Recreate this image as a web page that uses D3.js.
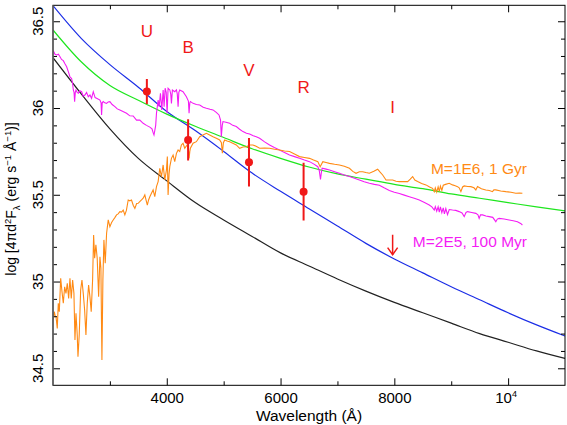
<!DOCTYPE html>
<html>
<head>
<meta charset="utf-8">
<script src="https://cdn.jsdelivr.net/npm/d3@7"></script>
<style>
  body { margin: 0; background: #fff; }
  text { font-family: "Liberation Sans", Arial, sans-serif; }
</style>
</head>
<body>
<div id="chart"></div>
<script>
// model spectra, [wavelength (A), log flux]
const spec1Gyr = [[2005,34.78],[2023,34.826],[2040,34.80],[2053,34.797],[2075,34.73],[2093,34.875],[2111,34.826],[2135,35.019],[2158,34.942],[2181,34.875],[2205,34.97],[2228,34.932],[2251,34.99],[2275,34.903],[2298,35.019],[2321,34.903],[2345,35.009],[2368,34.932],[2386,34.663],[2404,34.817],[2426,34.692],[2439,34.567],[2461,34.692],[2486,34.951],[2509,35.009],[2532,34.932],[2556,34.836],[2579,34.692],[2602,34.875],[2626,34.98],[2649,34.913],[2672,34.826],[2696,35.009],[2714,35.268],[2732,35.134],[2754,35.211],[2777,35.134],[2802,34.913],[2825,35.143],[2842,35.076],[2860,34.548],[2877,35.009],[2895,35.24],[2918,35.105],[2942,35.278],[2971,35.355],[3000,35.316],[3030,35.34],[3058,35.355],[3090,35.37],[3117,35.384],[3145,35.39],[3175,35.403],[3205,35.40],[3234,35.412],[3263,35.384],[3290,35.41],[3322,35.47],[3350,35.465],[3380,35.47],[3410,35.44],[3439,35.422],[3470,35.45],[3497,35.451],[3525,35.46],[3556,35.47],[3585,35.48],[3614,35.499],[3635,35.47],[3658,35.441],[3680,35.47],[3702,35.489],[3731,35.509],[3760,35.528],[3789,35.489],[3819,35.547],[3848,35.576],[3877,35.653],[3906,35.604],[3936,35.672],[3965,35.585],[3994,35.643],[4010,35.72],[4023,35.499],[4040,35.62],[4053,35.662],[4082,35.71],[4111,35.729],[4140,35.691],[4170,35.739],[4199,35.758],[4228,35.749],[4257,35.787],[4286,35.797],[4316,35.768],[4356,35.787],[4380,35.76],[4392,35.71],[4405,35.75],[4415,35.768],[4462,35.797],[4520,35.806],[4579,35.835],[4637,35.845],[4696,35.854],[4754,35.845],[4813,35.835],[4871,35.826],[4930,35.816],[4960,35.80],[4977,35.739],[4995,35.80],[5018,35.816],[5060,35.81],[5105,35.806],[5160,35.797],[5222,35.787],[5281,35.768],[5340,35.775],[5398,35.777],[5456,35.787],[5514,35.787],[5570,35.78],[5632,35.768],[5720,35.77],[5807,35.768],[5895,35.762],[5982,35.758],[6070,35.752],[6158,35.749],[6245,35.735],[6333,35.72],[6420,35.715],[6509,35.71],[6580,35.70],[6655,35.691],[6696,35.662],[6743,35.691],[6800,35.686],[6860,35.681],[6950,35.676],[7035,35.672],[7120,35.664],[7211,35.653],[7270,35.635],[7327,35.624],[7385,35.633],[7444,35.633],[7500,35.628],[7561,35.624],[7640,35.635],[7707,35.647],[7750,35.63],[7795,35.614],[7854,35.585],[7912,35.585],[7971,35.585],[8030,35.578],[8088,35.576],[8160,35.576],[8234,35.576],[8280,35.59],[8322,35.605],[8360,35.585],[8409,35.576],[8480,35.565],[8556,35.557],[8620,35.545],[8672,35.537],[8702,35.518],[8720,35.54],[8745,35.515],[8770,35.545],[8790,35.52],[8810,35.55],[8835,35.525],[8860,35.555],[8900,35.56],[8965,35.566],[9023,35.557],[9070,35.552],[9111,35.547],[9140,35.54],[9170,35.518],[9200,35.545],[9228,35.551],[9290,35.548],[9345,35.547],[9400,35.54],[9433,35.528],[9462,35.547],[9530,35.535],[9608,35.528],[9670,35.525],[9725,35.518],[9750,35.528],[9784,35.528],[9870,35.522],[9959,35.518],[10050,35.515],[10135,35.509],[10200,35.51],[10251,35.509]];

const spec100Myr = [[2005,36.33],[2035,36.31],[2065,36.306],[2095,36.31],[2123,36.296],[2150,36.28],[2181,36.273],[2210,36.255],[2240,36.238],[2269,36.21],[2298,36.18],[2327,36.17],[2345,36.14],[2357,36.104],[2370,36.09],[2380,36.037],[2392,36.09],[2404,36.104],[2425,36.09],[2445,36.085],[2470,36.10],[2503,36.094],[2530,36.07],[2561,36.075],[2590,36.09],[2620,36.065],[2650,36.075],[2678,36.056],[2708,36.094],[2740,36.06],[2766,36.056],[2800,36.05],[2825,36.046],[2845,36.03],[2854,35.96],[2865,36.03],[2883,36.037],[2910,36.03],[2942,36.027],[2970,36.035],[3000,36.037],[3040,36.02],[3088,36.008],[3130,35.995],[3175,35.989],[3230,35.98],[3293,35.97],[3351,35.955],[3409,35.954],[3468,35.93],[3526,35.93],[3585,35.912],[3643,35.90],[3702,35.89],[3740,35.88],[3760,35.858],[3775,35.845],[3789,35.87],[3805,35.90],[3819,35.97],[3848,36.046],[3866,36.008],[3889,36.085],[3912,35.989],[3936,36.104],[3953,36.008],[3971,36.114],[3990,36.09],[4006,35.97],[4023,36.114],[4053,36.104],[4070,36.08],[4082,36.027],[4099,36.104],[4140,36.094],[4170,36.104],[4185,36.08],[4199,36.008],[4212,36.09],[4228,36.104],[4286,36.094],[4345,36.065],[4380,36.04],[4392,35.97],[4405,36.03],[4415,36.037],[4462,36.027],[4520,36.02],[4579,36.017],[4640,36.005],[4696,35.999],[4760,35.993],[4813,35.989],[4870,35.975],[4918,35.96],[4945,35.93],[4959,35.835],[4975,35.90],[4988,35.922],[5040,35.918],[5105,35.912],[5160,35.90],[5222,35.893],[5280,35.878],[5339,35.864],[5400,35.855],[5456,35.85],[5520,35.84],[5573,35.835],[5632,35.826],[5720,35.805],[5807,35.787],[5890,35.772],[5982,35.758],[6070,35.743],[6158,35.729],[6245,35.72],[6333,35.71],[6420,35.70],[6509,35.691],[6580,35.678],[6655,35.662],[6680,35.64],[6702,35.589],[6718,35.63],[6731,35.653],[6800,35.648],[6860,35.643],[6950,35.633],[7035,35.624],[7120,35.614],[7211,35.605],[7300,35.595],[7386,35.585],[7470,35.575],[7561,35.566],[7650,35.56],[7737,35.555],[7820,35.54],[7912,35.525],[8000,35.515],[8088,35.507],[8175,35.498],[8263,35.489],[8350,35.48],[8439,35.47],[8530,35.455],[8614,35.441],[8660,35.43],[8702,35.412],[8720,35.432],[8745,35.405],[8770,35.43],[8790,35.40],[8810,35.43],[8835,35.397],[8860,35.425],[8880,35.39],[8905,35.42],[8935,35.385],[8965,35.415],[9023,35.412],[9080,35.41],[9140,35.403],[9190,35.395],[9228,35.374],[9260,35.398],[9287,35.403],[9360,35.398],[9433,35.393],[9470,35.385],[9491,35.364],[9515,35.385],[9550,35.384],[9610,35.378],[9667,35.374],[9730,35.37],[9784,35.345],[9810,35.36],[9842,35.364],[9930,35.36],[10018,35.355],[10090,35.35],[10164,35.345],[10220,35.335],[10251,35.326]];

// smooth comparison curves, sampled every 500 A
const curveWave  = [2000,2500,3000,3500,4000,4500,5000,5500,6000,6500,7000,7500,8000,8500,9000,9500,10000,10500,11000];
const blueCurve  = [36.59,36.40,36.25,36.12,35.98,35.87,35.75,35.625,35.52,35.42,35.32,35.22,35.13,35.05,34.97,34.895,34.82,34.75,34.686];
const greenCurve = [36.45,36.265,36.13,36.045,35.965,35.895,35.83,35.765,35.71,35.66,35.62,35.59,35.56,35.535,35.505,35.48,35.455,35.43,35.407];
const blackCurve = [36.29,36.08,35.88,35.71,35.58,35.455,35.355,35.26,35.165,35.09,35.015,34.945,34.88,34.82,34.76,34.70,34.65,34.60,34.557];

// photometry
const bands     = ["U", "B", "V", "R", "I"];
const bandWave  = [3650, 4375, 5445, 6405, 7970];
const bandFlux  = [36.095, 35.816, 35.687, 35.518, null];
const bandErr   = [0.072, 0.119, 0.14, 0.166, null];
const upperLim  = {band: "I", top: 35.27, tip: 35.155};

const xTicks = [4000, 6000, 8000, 10000];
const xMinor = [3000, 5000, 7000, 9000];
const yTicks = [34.5, 35, 35.5, 36, 36.5];

const width = 567, height = 425;
const margin = {top: 5.3, right: 2, bottom: 39.7, left: 53};
const red = "#f01818";

const svg = d3.select("#chart").append("svg")
    .attr("width", width)
    .attr("height", height);

const x = d3.scaleLinear().domain([2000, 11000]).range([margin.left, width - margin.right]);
const y = d3.scaleLinear().domain([34.402, 36.592]).range([height - margin.bottom, margin.top]);

svg.append("clipPath").attr("id", "plot")
  .append("rect")
    .attr("x", margin.left).attr("y", margin.top)
    .attr("width", width - margin.left - margin.right)
    .attr("height", height - margin.top - margin.bottom);

const plot = svg.append("g").attr("clip-path", "url(#plot)");

const line = d3.line().x(d => x(d[0])).y(d => y(d[1]));
const smooth = d3.line().x(d => x(d[0])).y(d => y(d[1])).curve(d3.curveMonotoneX);

// curves
[[blackCurve, "#222"], [blueCurve, "#1c2ee6"], [greenCurve, "#1ee61e"]].forEach(([vals, c]) => {
    plot.append("path")
        .datum(curveWave.map((w, i) => [w, vals[i]]))
        .attr("d", smooth)
        .attr("fill", "none")
        .attr("stroke", c)
        .attr("stroke-width", 1.2);
});

// spectra
plot.append("path").datum(spec100Myr).attr("d", line)
    .attr("fill", "none").attr("stroke", "#f41cf4").attr("stroke-width", 1.1);
plot.append("path").datum(spec1Gyr).attr("d", line)
    .attr("fill", "none").attr("stroke", "#ff8a14").attr("stroke-width", 1.1);

// error bars and points
bands.forEach((b, i) => {
    if (bandFlux[i] === null) return;
    plot.append("line")
        .attr("x1", x(bandWave[i])).attr("x2", x(bandWave[i]))
        .attr("y1", y(bandFlux[i] + bandErr[i])).attr("y2", y(bandFlux[i] - bandErr[i]))
        .attr("stroke", red).attr("stroke-width", 2);
    plot.append("circle")
        .attr("cx", x(bandWave[i])).attr("cy", y(bandFlux[i]))
        .attr("r", 4).attr("fill", red);
});

// upper limit arrow for I
const xi = x(bandWave[bands.indexOf(upperLim.band)]);
const ytip = y(upperLim.tip);
plot.append("line")
    .attr("x1", xi).attr("x2", xi)
    .attr("y1", y(upperLim.top)).attr("y2", ytip)
    .attr("stroke", red).attr("stroke-width", 1.5);
plot.append("path")
    .attr("d", `M${xi - 5},${ytip - 7}L${xi},${ytip}L${xi + 5},${ytip - 7}`)
    .attr("fill", "none").attr("stroke", red).attr("stroke-width", 1.5);

// band names
const labelY = [37.3, 53.3, 76, 93.3, 113.3];
svg.selectAll(".band").data(bands).join("text")
    .attr("x", (d, i) => x(bandWave[i]))
    .attr("y", (d, i) => labelY[i])
    .attr("text-anchor", "middle")
    .attr("fill", red)
    .style("font-size", "17px")
    .text(d => d);

// model labels
svg.append("text").attr("x", 527).attr("y", 174)
    .attr("text-anchor", "end").attr("fill", "#ff8a14")
    .style("font-size", "15.5px").text("M=1E6, 1 Gyr");
svg.append("text").attr("x", 527).attr("y", 247)
    .attr("text-anchor", "end").attr("fill", "#f41cf4")
    .style("font-size", "15.5px").text("M=2E5, 100 Myr");

// axes, all ticks pointing inward
const x0 = margin.left, x1 = width - margin.right;
const y0 = height - margin.bottom, y1 = margin.top;
const yMinor = d3.range(34.5, 36.55, 0.1).map(v => +v.toFixed(1)).filter(v => !yTicks.includes(v));

function styleAxis(g) {
    g.select(".domain").remove();
    g.selectAll("line").attr("stroke", "#000");
}

svg.append("g").attr("transform", `translate(0,${y0})`)
    .call(d3.axisBottom(x).tickValues(xMinor).tickSize(-4).tickFormat(""))
    .call(styleAxis);
const xb = svg.append("g").attr("transform", `translate(0,${y0})`)
    .call(d3.axisBottom(x).tickValues(xTicks).tickSize(-7).tickPadding(7)
        .tickFormat(d => d === 10000 ? "" : d))
    .call(styleAxis);
xb.selectAll("text").attr("fill", "#000").style("font-size", "15px")
    .style("font-family", "Liberation Sans, Arial, sans-serif");
// 10^4 label
const t4 = svg.append("text")
    .attr("x", x(10000) - 2).attr("y", y0 + 17.4)
    .attr("text-anchor", "middle")
    .style("font-size", "15px");
t4.append("tspan").text("10");
t4.append("tspan").attr("dy", -6).style("font-size", "9px").text("4");

svg.append("g").attr("transform", `translate(0,${y1})`)
    .call(d3.axisTop(x).tickValues(xMinor).tickSize(-4).tickFormat("")).call(styleAxis);
svg.append("g").attr("transform", `translate(0,${y1})`)
    .call(d3.axisTop(x).tickValues(xTicks).tickSize(-7).tickFormat("")).call(styleAxis);

svg.append("g").attr("transform", `translate(${x0},0)`)
    .call(d3.axisLeft(y).tickValues(yMinor).tickSize(-4).tickFormat("")).call(styleAxis);
svg.append("g").attr("transform", `translate(${x0},0)`)
    .call(d3.axisLeft(y).tickValues(yTicks).tickSize(-7).tickFormat("")).call(styleAxis);
svg.append("g").attr("transform", `translate(${x1},0)`)
    .call(d3.axisRight(y).tickValues(yMinor).tickSize(-4).tickFormat("")).call(styleAxis);
svg.append("g").attr("transform", `translate(${x1},0)`)
    .call(d3.axisRight(y).tickValues(yTicks).tickSize(-7).tickFormat("")).call(styleAxis);

// rotated y tick labels
svg.selectAll(".ylab").data(yTicks).join("text")
    .attr("transform", d => `translate(43.3,${y(d)}) rotate(-90)`)
    .attr("text-anchor", "middle")
    .style("font-size", "15px")
    .text(d => d);

// frame
svg.append("rect")
    .attr("x", x0).attr("y", y1)
    .attr("width", x1 - x0).attr("height", y0 - y1)
    .attr("fill", "none").attr("stroke", "#000").attr("stroke-width", 1);
svg.append("line").attr("x1", x0).attr("x2", x0).attr("y1", y1).attr("y2", y0)
    .attr("stroke", "#666").attr("stroke-width", 1.6);

// axis titles
svg.append("text")
    .attr("x", (x0 + x1) / 2).attr("y", 421)
    .attr("text-anchor", "middle")
    .style("font-size", "15.5px")
    .text("Wavelength (Å)");

const yt = svg.append("text")
    .attr("transform", "translate(16,199) rotate(-90)")
    .attr("text-anchor", "middle")
    .style("font-size", "14px");
yt.append("tspan").text("log [4πd");
yt.append("tspan").attr("dy", -5).style("font-size", "9.5px").text("2");
yt.append("tspan").attr("dy", 5).text("F");
yt.append("tspan").attr("dy", 3.5).style("font-size", "9.5px").text("λ");
yt.append("tspan").attr("dy", -3.5).text(" (erg s");
yt.append("tspan").attr("dy", -5).style("font-size", "9.5px").text("−1");
yt.append("tspan").attr("dy", 5).text(" Å");
yt.append("tspan").attr("dy", -5).style("font-size", "9.5px").text("−1");
yt.append("tspan").attr("dy", 5).text(")]");
</script>
</body>
</html>
